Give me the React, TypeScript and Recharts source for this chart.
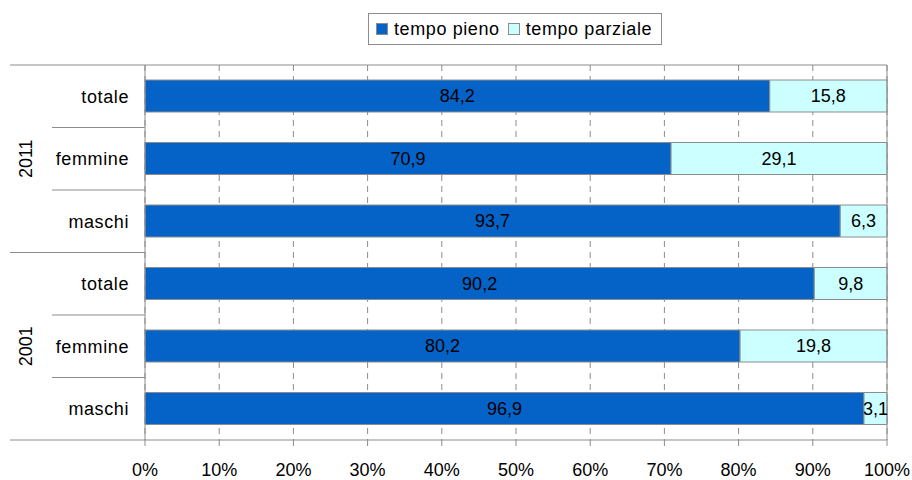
import React from "react";
import {
  BarChart,
  Bar,
  XAxis,
  YAxis,
  CartesianGrid,
  LabelList,
  ReferenceLine,
} from "recharts";

const years = ["2011", "2011", "2011", "2001", "2001", "2001"];
const groups = ["totale", "femmine", "maschi", "totale", "femmine", "maschi"];
const tempoPieno = [84.2, 70.9, 93.7, 90.2, 80.2, 96.9];
const tempoParziale = [15.8, 29.1, 6.3, 9.8, 19.8, 3.1];
const xTicks = [0, 10, 20, 30, 40, 50, 60, 70, 80, 90, 100];

const data = groups.map((g, i) => ({
  key: `${years[i]}-${g}-${i}`,
  year: years[i],
  label: g,
  pieno: tempoPieno[i],
  parziale: tempoParziale[i],
}));

const FONT = '"Liberation Sans", Arial, sans-serif';
const BLUE = "#0563C8";
const LIGHT = "#CCFFFF";
const EDGE = "#8c8c8c";
const W = 912;
const H = 480;
const TOP = 65;
const BOTTOM = 440;
const LEFT = 145;
const RIGHT = 887;
const BAND = (BOTTOM - TOP) / data.length;

const fmt = (v: number) => v.toFixed(1).replace(".", ",");

function YTick(props: any) {
  const { y, index } = props;
  const row = data[index];
  const top = y - BAND / 2;
  const firstOfYear = index === 0 || data[index - 1].year !== row.year;
  const isLast = index === data.length - 1;
  const middleOfYear =
    index > 0 && index < data.length - 1 &&
    data[index - 1].year === row.year && data[index + 1].year === row.year;
  return (
    <g>
      <line
        x1={firstOfYear ? 10 : 52}
        x2={index === 0 ? RIGHT : LEFT}
        y1={top}
        y2={top}
        stroke={EDGE}
      />
      {isLast && (
        <line x1={10} x2={LEFT} y1={y + BAND / 2} y2={y + BAND / 2} stroke={EDGE} />
      )}
      <text
        x={129}
        y={y}
        dy="0.35em"
        textAnchor="end"
        fontSize={18}
        fontFamily={FONT}
        letterSpacing={0.6}
        fill="#000"
      >
        {row.label}
      </text>
      {middleOfYear && (
        <text
          x={26}
          y={y}
          dy="0.35em"
          textAnchor="middle"
          fontSize={18}
          fontFamily={FONT}
          fill="#000"
          transform={`rotate(-90 26 ${y})`}
        >
          {row.year}
        </text>
      )}
    </g>
  );
}

function LegendBox() {
  const item = (color: string, text: string) => (
    <div style={{ display: "flex", alignItems: "center", marginRight: 8 }}>
      <div
        style={{
          width: 10,
          height: 10,
          background: color,
          border: `1px solid ${EDGE}`,
          marginRight: 6,
        }}
      />
      <span style={{ letterSpacing: 0.6 }}>{text}</span>
    </div>
  );
  return (
    <div
      style={{
        position: "absolute",
        left: 368,
        top: 13,
        width: 294,
        height: 32,
        boxSizing: "border-box",
        border: `1px solid ${EDGE}`,
        display: "flex",
        alignItems: "center",
        paddingLeft: 7,
        fontFamily: FONT,
        fontSize: 18,
        color: "#000",
        background: "#fff",
      }}
    >
      {item(BLUE, "tempo pieno")}
      {item(LIGHT, "tempo parziale")}
    </div>
  );
}

export default function App() {
  return (
    <div style={{ position: "absolute", left: 0, top: 0, width: W, height: H, background: "#fff" }}>
      <BarChart
        width={W}
        height={H}
        data={data}
        layout="vertical"
        margin={{ top: TOP, right: W - RIGHT, left: 0, bottom: 0 }}
        barSize={32}
      >
        <CartesianGrid
          horizontal={false}
          stroke={EDGE}
          strokeDasharray="6 5"
        />
        <XAxis
          type="number"
          domain={[0, 100]}
          ticks={xTicks}
          tickFormatter={(v) => `${v}%`}
          height={H - BOTTOM}
          tickSize={6}
          tickMargin={17}
          axisLine={{ stroke: EDGE }}
          tickLine={{ stroke: EDGE }}
          tick={{ fill: "#000", fontSize: 18, fontFamily: FONT }}
          interval={0}
        />
        <YAxis
          type="category"
          dataKey="key"
          width={LEFT}
          axisLine={{ stroke: EDGE }}
          tickLine={false}
          tick={<YTick />}
          interval={0}
        />
        <ReferenceLine x={100} stroke={EDGE} />
        <Bar dataKey="pieno" stackId="a" fill={BLUE} stroke={EDGE} isAnimationActive={false}>
          <LabelList
            dataKey="pieno"
            position="center"
            formatter={(v: any) => fmt(Number(v))}
            fill="#000"
            fontSize={18}
            fontFamily={FONT}
          />
        </Bar>
        <Bar dataKey="parziale" stackId="a" fill={LIGHT} stroke={EDGE} isAnimationActive={false}>
          <LabelList
            dataKey="parziale"
            position="center"
            formatter={(v: any) => fmt(Number(v))}
            fill="#000"
            fontSize={18}
            fontFamily={FONT}
          />
        </Bar>
      </BarChart>
      <LegendBox />
    </div>
  );
}
